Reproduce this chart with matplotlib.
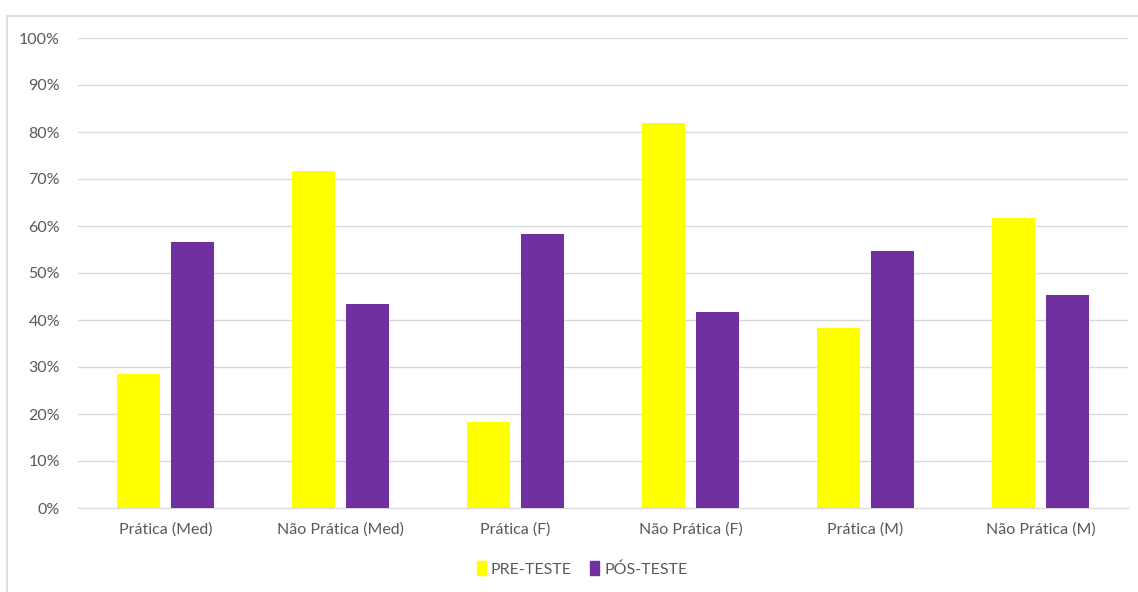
import matplotlib
matplotlib.use('Agg')
import matplotlib.pyplot as plt
import numpy as np
from matplotlib.patches import Rectangle, Patch

categories = ['Prática (Med)', 'Não Prática (Med)', 'Prática (F)',
              'Não Prática (F)', 'Prática (M)', 'Não Prática (M)']
pre_teste = [28.5, 71.6, 18.3, 81.9, 38.4, 61.8]
pos_teste = [56.7, 43.5, 58.4, 41.6, 54.6, 45.4]
series_names = ['PRE-TESTE', 'PÓS-TESTE']
yticks = [0, 10, 20, 30, 40, 50, 60, 70, 80, 90, 100]

YELLOW = '#FFFF00'
PURPLE = '#7030A0'
TXT = '#595959'

plt.rcParams['font.family'] = ['Lato', 'DejaVu Sans']

W, H = 1138, 592
fig = plt.figure(figsize=(W / 100, H / 100), dpi=100)

# outer chart frame (only left and top edges visible)
fig.patches.append(Rectangle((7 / W, -0.1), 1.2, 1 - 15.5 / H + 0.1,
                             transform=fig.transFigure, fill=False,
                             edgecolor='#D9D9D9', linewidth=1.2))

ax = fig.add_axes([78 / W, 1 - 508 / H, 1050 / W, 470 / H])

x = np.arange(len(categories))
bw = 0.246
off = 0.155
ax.bar(x - off, pre_teste, bw, color=YELLOW, label=series_names[0], zorder=3)
ax.bar(x + off, pos_teste, bw, color=PURPLE, label=series_names[1], zorder=3)

ax.set_xlim(-0.5, len(categories) - 0.5)
ax.set_ylim(0, 100)
ax.set_yticks(yticks)
ax.set_yticklabels(['{}%'.format(v) for v in yticks])
ax.set_xticks(x)
ax.set_xticklabels(categories)
ax.tick_params(axis='both', length=0, labelsize=11.5, colors=TXT)
ax.tick_params(axis='y', pad=13)
ax.tick_params(axis='x', pad=10)

ax.grid(axis='y', color='#D9D9D9', linewidth=1, zorder=0)
for s in ['top', 'right', 'left']:
    ax.spines[s].set_visible(False)
ax.spines['bottom'].set_color('#D9D9D9')

handles = [Patch(color=YELLOW), Patch(color=PURPLE)]
fig.legend(handles, series_names, loc='center', bbox_to_anchor=(582 / W, 1 - 569 / H),
           ncol=2, frameon=False, fontsize=11.5, labelcolor=TXT,
           handlelength=0.55, handleheight=0.95, handletextpad=0.3, columnspacing=1.2)

fig.savefig('out.png', dpi=100, facecolor='white')
